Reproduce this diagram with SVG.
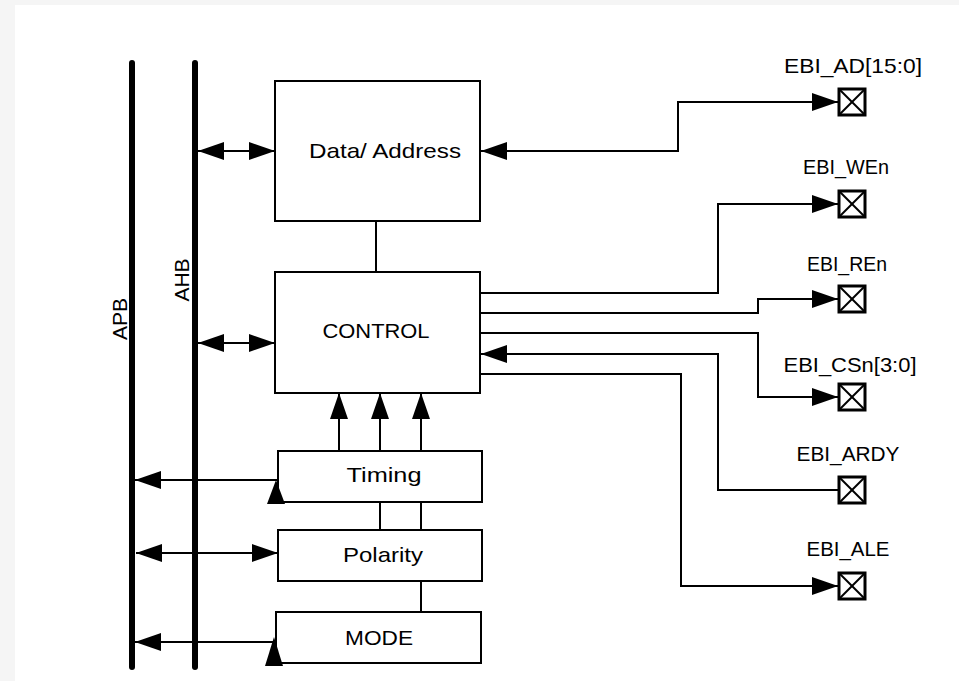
<svg xmlns="http://www.w3.org/2000/svg" width="959" height="681" viewBox="0 0 959 681">
  <style>
    .box { fill: #ffffff; stroke: #000000; stroke-width: 2; }
    .bus { stroke: #000000; stroke-width: 6; stroke-linecap: round; fill: none; }
    .wire { stroke: #000000; stroke-width: 2; fill: none; }
    .pin { fill: #ffffff; stroke: #000000; stroke-width: 3; }
    .pinx { stroke: #000000; stroke-width: 2; }
    .lbl { font-family: "Liberation Sans", Arial, sans-serif; font-size: 21px; fill: #000000; text-anchor: middle; }
  </style>
  <defs>
    <marker id="arrow" viewBox="0 0 26 18" refX="26" refY="9" markerWidth="26" markerHeight="18" markerUnits="userSpaceOnUse" orient="auto-start-reverse">
      <path d="M0,0 L26,9 L0,18 Z" fill="#000000"/>
    </marker>
    <g id="pad">
      <rect class="pin" x="-13" y="-13" width="26" height="26"/>
      <line class="pinx" x1="-12" y1="-12" x2="12" y2="12"/>
      <line class="pinx" x1="12" y1="-12" x2="-12" y2="12"/>
    </g>
  </defs>

  <!-- page -->
  <rect x="0" y="0" width="959" height="681" fill="#f5f5f5"/>
  <rect x="15" y="5" width="944" height="676" fill="#ffffff"/>

  <!-- system buses -->
  <g id="bus-apb">
    <line class="bus" x1="132" y1="63" x2="132" y2="667"/>
    <text class="lbl" transform="translate(127,319) rotate(-90)">APB</text>
  </g>
  <g id="bus-ahb">
    <line class="bus" x1="195" y1="63" x2="195" y2="667"/>
    <text class="lbl" transform="translate(189,280) rotate(-90)">AHB</text>
  </g>

  <!-- functional blocks -->
  <g id="data-address">
    <rect class="box" x="275" y="81" width="205" height="140"/>
    <text class="lbl" x="385" y="158" textLength="152" lengthAdjust="spacingAndGlyphs">Data/ Address</text>
  </g>
  <g id="control">
    <rect class="box" x="275" y="272" width="205" height="121"/>
    <text class="lbl" x="376" y="338" textLength="107" lengthAdjust="spacingAndGlyphs">CONTROL</text>
  </g>
  <g id="timing">
    <rect class="box" x="278" y="451" width="204" height="51"/>
    <text class="lbl" x="384" y="482" textLength="75" lengthAdjust="spacingAndGlyphs">Timing</text>
  </g>
  <g id="polarity">
    <rect class="box" x="278" y="530" width="204" height="51"/>
    <text class="lbl" x="383" y="562" textLength="80" lengthAdjust="spacingAndGlyphs">Polarity</text>
  </g>
  <g id="mode">
    <rect class="box" x="276" y="612" width="205" height="51"/>
    <text class="lbl" x="379" y="645" textLength="68" lengthAdjust="spacingAndGlyphs">MODE</text>
  </g>

  <!-- external pads -->
  <g id="pin-ad">
    <use href="#pad" x="852" y="102"/>
    <text class="lbl" x="853" y="73" textLength="138" lengthAdjust="spacingAndGlyphs">EBI_AD[15:0]</text>
  </g>
  <g id="pin-wen">
    <use href="#pad" x="852" y="204"/>
    <text class="lbl" x="846" y="174" textLength="86" lengthAdjust="spacingAndGlyphs">EBI_WEn</text>
  </g>
  <g id="pin-ren">
    <use href="#pad" x="852" y="299"/>
    <text class="lbl" x="847" y="271" textLength="80" lengthAdjust="spacingAndGlyphs">EBI_REn</text>
  </g>
  <g id="pin-csn">
    <use href="#pad" x="852" y="397"/>
    <text class="lbl" x="850" y="372" textLength="133" lengthAdjust="spacingAndGlyphs">EBI_CSn[3:0]</text>
  </g>
  <g id="pin-ardy">
    <use href="#pad" x="852" y="490"/>
    <text class="lbl" x="848" y="461" textLength="103" lengthAdjust="spacingAndGlyphs">EBI_ARDY</text>
  </g>
  <g id="pin-ale">
    <use href="#pad" x="852" y="586"/>
    <text class="lbl" x="848" y="556" textLength="83" lengthAdjust="spacingAndGlyphs">EBI_ALE</text>
  </g>

  <!-- connectors -->
  <g id="connectors">
    <!-- bus interfaces -->
    <line class="wire" x1="198" y1="151" x2="275" y2="151" marker-start="url(#arrow)" marker-end="url(#arrow)"/>
    <line class="wire" x1="198" y1="343" x2="275" y2="343" marker-start="url(#arrow)" marker-end="url(#arrow)"/>

    <!-- internal links -->
    <line class="wire" x1="376" y1="221" x2="376" y2="272"/>
    <line class="wire" x1="339" y1="451" x2="339" y2="393" marker-end="url(#arrow)"/>
    <line class="wire" x1="380" y1="451" x2="380" y2="393" marker-end="url(#arrow)"/>
    <line class="wire" x1="421" y1="451" x2="421" y2="393" marker-end="url(#arrow)"/>
    <line class="wire" x1="380" y1="502" x2="380" y2="530"/>
    <line class="wire" x1="421" y1="502" x2="421" y2="530"/>
    <line class="wire" x1="421" y1="581" x2="421" y2="612"/>

    <!-- register blocks to APB -->
    <line class="wire" x1="278" y1="480" x2="135" y2="480" marker-end="url(#arrow)"/>
    <polygon points="276,480 267,504 285,504" fill="#000000"/>
    <line class="wire" x1="136" y1="553" x2="278" y2="553" marker-start="url(#arrow)" marker-end="url(#arrow)"/>
    <line class="wire" x1="276" y1="642" x2="135" y2="642" marker-end="url(#arrow)"/>
    <polygon points="274,637 265,666 283,666" fill="#000000"/>

    <!-- external signals -->
    <polyline class="wire" points="838,102 678,102 678,151 481,151" marker-start="url(#arrow)" marker-end="url(#arrow)"/>
    <polyline class="wire" points="480,293 718,293 718,204 838,204" marker-end="url(#arrow)"/>
    <polyline class="wire" points="480,313 758,313 758,299 838,299" marker-end="url(#arrow)"/>
    <polyline class="wire" points="480,333 758,333 758,397 838,397" marker-end="url(#arrow)"/>
    <polyline class="wire" points="838,490 718,490 718,354 481,354" marker-end="url(#arrow)"/>
    <polyline class="wire" points="480,374 681,374 681,586 838,586" marker-end="url(#arrow)"/>
  </g>
</svg>
